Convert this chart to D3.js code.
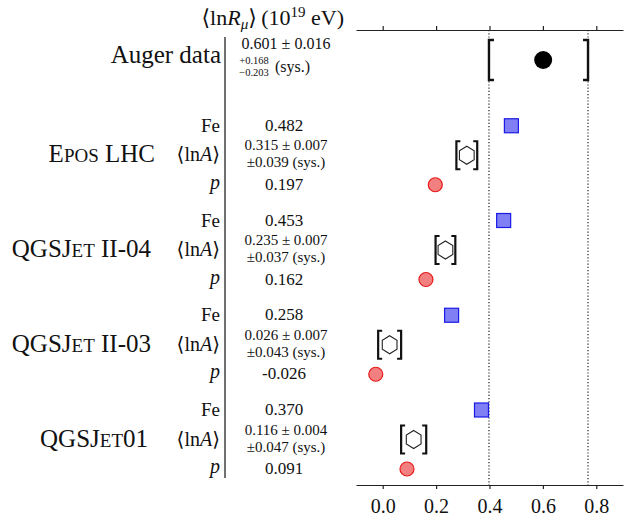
<!DOCTYPE html>
<html>
<head>
<meta charset="utf-8">
<script src="https://cdn.jsdelivr.net/npm/d3@7"></script>
<style>
  body { margin: 0; background: #fff; }
  text { font-family: "Liberation Serif", "DejaVu Serif", serif; fill: #111; }
</style>
</head>
<body>
<svg id="chart" width="641" height="517"></svg>
<script>
// values
var models = ["EPOS LHC", "QGSJET II-04", "QGSJET II-03", "QGSJET01"];
var feValues = [0.482, 0.453, 0.258, 0.370];
var lnAValues = [0.315, 0.235, 0.026, 0.116];
var lnAStat = [0.007, 0.007, 0.007, 0.004];
var lnASys = [0.039, 0.037, 0.043, 0.047];
var pValues = [0.197, 0.162, -0.026, 0.091];
var augerValue = [0.601];
var augerStat = [0.016];
var augerSysUp = [0.168];
var augerSysDown = [0.203];
var xTicks = [0.0, 0.2, 0.4, 0.6, 0.8];

var svg = d3.select('#chart');
var fmt = d3.format(".3f");

var x = d3.scaleLinear().domain([-0.1, 0.9]).range([356, 623]);
var rowY = d3.scalePoint().domain(["Auger"].concat(models)).range([60, 439]);
var subY = d3.scalePoint().domain(["Fe", "lnA", "p"]).range([-29, 30]);
var yTop = 30, yBot = 485;

// axes
svg.append('g').attr('transform', 'translate(0,' + yTop + ')')
    .call(d3.axisTop(x).tickValues(xTicks).tickFormat('').tickSizeInner(4).tickSizeOuter(0))
    .call(function(g){ g.selectAll('path,line').attr('stroke', '#222').attr('stroke-width', 1.2); });
var bottom = svg.append('g').attr('transform', 'translate(0,' + yBot + ')')
    .call(d3.axisBottom(x).tickValues(xTicks).tickFormat(d3.format(".1f")).tickSizeInner(4).tickSizeOuter(0));
bottom.selectAll('path,line').attr('stroke', '#222').attr('stroke-width', 1.2);
bottom.selectAll('text').attr('font-size', 20).attr('fill', '#111').attr('dy', '1.05em');

// dotted lines at the Auger sys bounds
var sysBounds = [augerValue[0] - augerSysDown[0], augerValue[0] + augerSysUp[0]];
svg.selectAll('line.sys').data(sysBounds).enter().append('line')
    .attr('class', 'sys')
    .attr('x1', function(d){ return x(d); }).attr('x2', function(d){ return x(d); })
    .attr('y1', yTop).attr('y2', yBot)
    .attr('stroke', '#222').attr('stroke-width', 1.2).attr('stroke-dasharray', '1.2,2');

// separator of the table
svg.append('line').attr('x1', 225).attr('x2', 225).attr('y1', 37).attr('y2', 478)
    .attr('stroke', '#111').attr('stroke-width', 1.2);

function bracket(xp, yc, h, w, dir){
    return 'M' + (xp + dir * w) + ',' + (yc - h / 2) + 'H' + xp + 'V' + (yc + h / 2) + 'H' + (xp + dir * w);
}

// header
var head = svg.append('text').attr('x', 344).attr('y', 25).attr('text-anchor', 'end').attr('font-size', 22);
head.append('tspan').text('⟨ln');
head.append('tspan').attr('font-style', 'italic').text('R');
head.append('tspan').attr('font-style', 'italic').attr('font-size', 15).attr('dy', 4).text('μ');
head.append('tspan').attr('dy', -4).text('⟩\u2009(10');
head.append('tspan').attr('font-size', 15).attr('dy', -8).text('19');
head.append('tspan').attr('dy', 8).text(' eV)');

// Auger row
var ya = rowY("Auger");
svg.append('text').attr('x', 221).attr('y', ya + 3).attr('text-anchor', 'end').attr('font-size', 25).text('Auger data');
svg.append('text').attr('x', 286).attr('y', ya - 11).attr('text-anchor', 'middle').attr('font-size', 16)
    .text(fmt(augerValue[0]) + ' ± ' + fmt(augerStat[0]));
svg.append('text').attr('x', 254).attr('y', ya + 4).attr('text-anchor', 'middle').attr('font-size', 10.5)
    .text('+' + fmt(augerSysUp[0]));
svg.append('text').attr('x', 254).attr('y', ya + 16).attr('text-anchor', 'middle').attr('font-size', 10.5)
    .text('−' + fmt(augerSysDown[0]));
svg.append('text').attr('x', 275).attr('y', ya + 12).attr('font-size', 16).text('(sys.)');

svg.selectAll('path.augerBr').data([[sysBounds[0], 1], [sysBounds[1], -1]]).enter().append('path')
    .attr('class', 'augerBr')
    .attr('d', function(d){ return bracket(x(d[0]), ya, 40, 5, d[1]); })
    .attr('fill', 'none').attr('stroke', '#111').attr('stroke-width', 2.4);
svg.append('circle').attr('cx', x(augerValue[0])).attr('cy', ya).attr('r', 9).attr('fill', '#000');

// model groups
var groups = svg.selectAll('g.model').data(models).enter().append('g')
    .attr('class', 'model')
    .attr('transform', function(d){ return 'translate(0,' + rowY(d) + ')'; });

function smallCaps(sel, parts){
    parts.forEach(function(p){
        sel.append('tspan').attr('font-size', p[1] ? 19 : 25).text(p[0]);
    });
}
var labelParts = {
    "EPOS LHC": [["E", 0], ["POS", 1], [" LHC", 0]],
    "QGSJET II-04": [["QGSJ", 0], ["ET", 1], [" II-04", 0]],
    "QGSJET II-03": [["QGSJ", 0], ["ET", 1], [" II-03", 0]],
    "QGSJET01": [["QGSJ", 0], ["ET", 1], ["01", 0]]
};
var labelEnd = [155, 151, 151, 148];
groups.append('text').attr('x', function(d, i){ return labelEnd[i]; }).attr('y', subY("lnA") + 7).attr('text-anchor', 'end')
    .each(function(d){ smallCaps(d3.select(this), labelParts[d]); });

groups.append('text').attr('x', 220).attr('y', subY("Fe") + 6).attr('text-anchor', 'end')
    .attr('font-size', 19).text('Fe');
groups.append('text').attr('x', 220).attr('y', subY("p") + 4).attr('text-anchor', 'end')
    .attr('font-size', 20).attr('font-style', 'italic').text('p');
groups.append('text').attr('x', 220).attr('y', subY("lnA") + 6).attr('text-anchor', 'end')
    .attr('font-size', 20)
    .each(function(){
        var t = d3.select(this);
        t.append('tspan').text('⟨ln');
        t.append('tspan').attr('font-style', 'italic').text('A');
        t.append('tspan').text('⟩');
    });

groups.append('text').attr('x', 284).attr('y', subY("Fe") + 5).attr('text-anchor', 'middle')
    .attr('font-size', 17).text(function(d, i){ return fmt(feValues[i]); });
groups.append('text').attr('x', 286).attr('y', subY("lnA") - 5).attr('text-anchor', 'middle')
    .attr('font-size', 15).text(function(d, i){ return fmt(lnAValues[i]) + ' ± ' + fmt(lnAStat[i]); });
groups.append('text').attr('x', 286).attr('y', subY("lnA") + 12).attr('text-anchor', 'middle')
    .attr('font-size', 15).text(function(d, i){ return '±' + fmt(lnASys[i]) + ' (sys.)'; });
groups.append('text').attr('x', 284).attr('y', subY("p") + 5).attr('text-anchor', 'middle')
    .attr('font-size', 17).text(function(d, i){ var v = pValues[i]; return v < 0 ? '-' + fmt(-v) : fmt(v); });

// markers
groups.append('rect')
    .attr('x', function(d, i){ return x(feValues[i]) - 7; })
    .attr('y', subY("Fe") - 7)
    .attr('width', 14).attr('height', 14)
    .attr('fill', '#8080f4').attr('stroke', '#1a1ae6').attr('stroke-width', 1.2);
groups.append('circle')
    .attr('cx', function(d, i){ return x(pValues[i]); })
    .attr('cy', subY("p"))
    .attr('r', 7)
    .attr('fill', '#f28080').attr('stroke', '#e61a1a').attr('stroke-width', 1.2);

var hexPts = d3.range(6).map(function(k){
    var a = Math.PI / 3 * k;
    return [8.5 * Math.sin(a), -9 * Math.cos(a)];
});
groups.append('path')
    .attr('transform', function(d, i){ return 'translate(' + x(lnAValues[i]) + ',' + subY("lnA") + ')'; })
    .attr('d', d3.line()(hexPts) + 'Z')
    .attr('fill', 'none').attr('stroke', '#222').attr('stroke-width', 1.1);
groups.each(function(d, i){
    var g = d3.select(this);
    [[lnAValues[i] - lnASys[i], 1], [lnAValues[i] + lnASys[i], -1]].forEach(function(b){
        g.append('path').attr('d', bracket(x(b[0]), subY("lnA"), 28, 4, b[1]))
            .attr('fill', 'none').attr('stroke', '#111').attr('stroke-width', 2.2);
    });
});
</script>
</body>
</html>
